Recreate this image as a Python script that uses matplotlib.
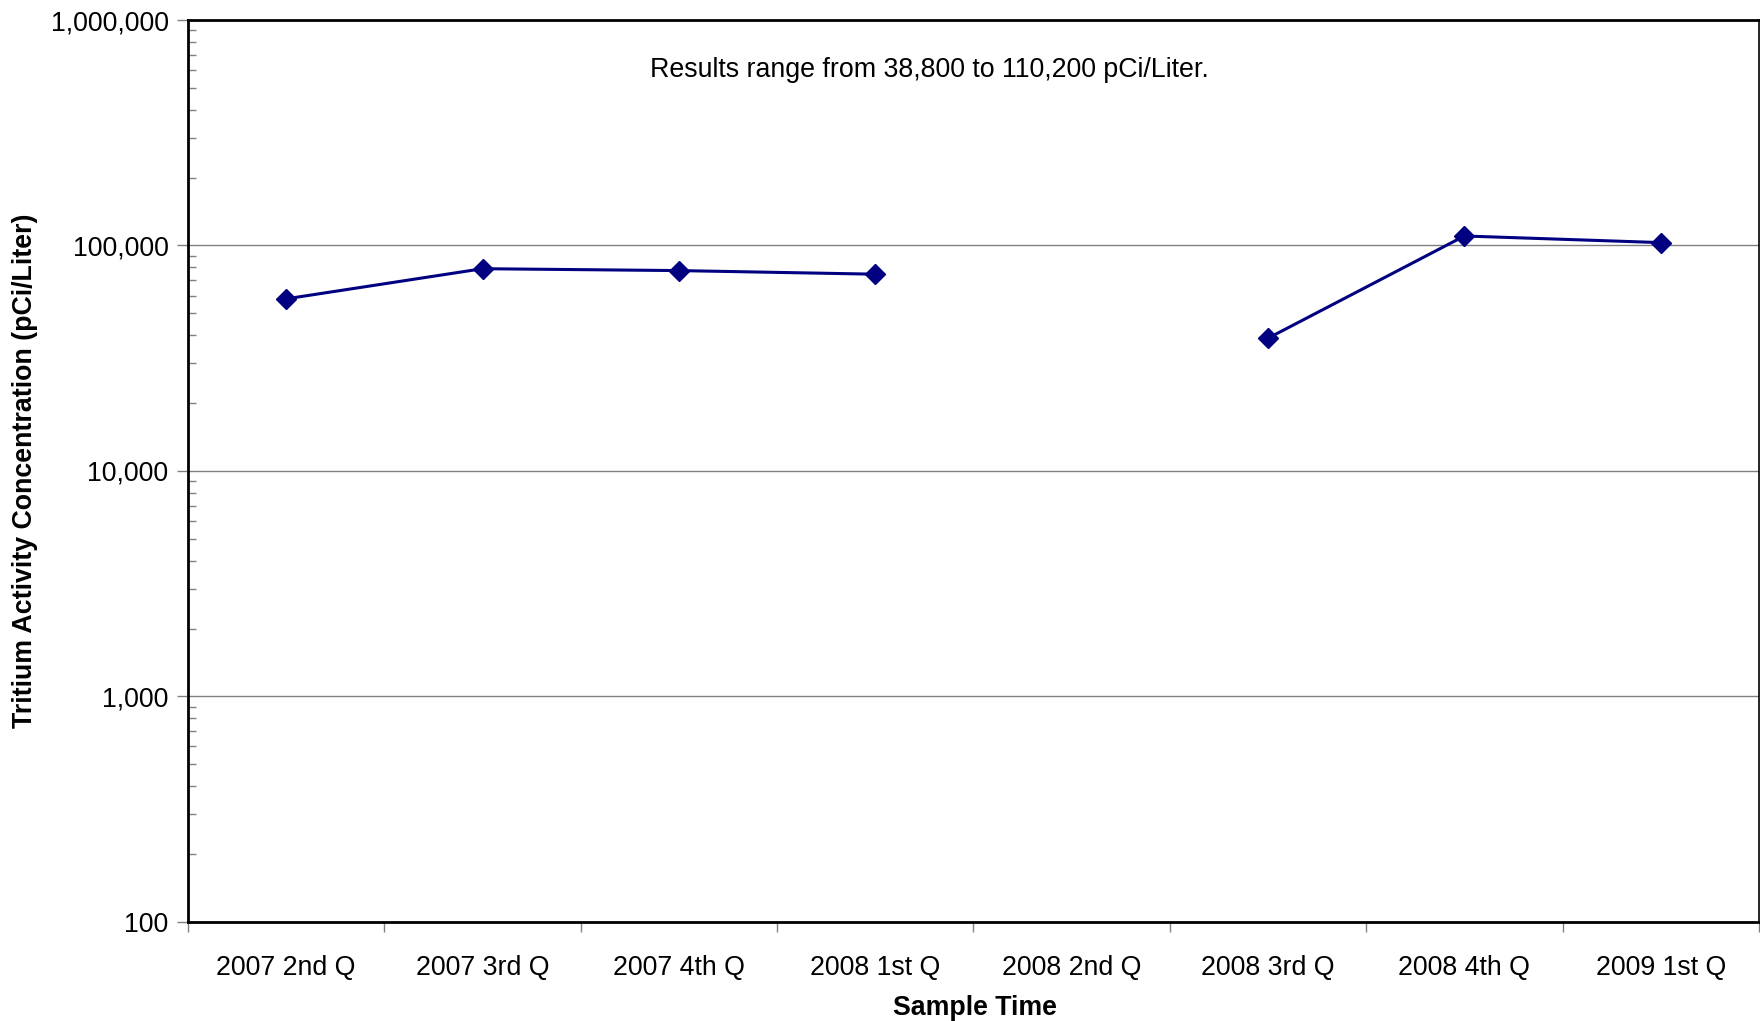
import numpy as np
import matplotlib
matplotlib.use("Agg")
import matplotlib.pyplot as plt
from matplotlib.ticker import FuncFormatter, LogLocator, FixedLocator, NullFormatter

plt.rcParams['font.family'] = ['Liberation Sans', 'DejaVu Sans']

# data
quarters = ["2007 2nd Q", "2007 3rd Q", "2007 4th Q", "2008 1st Q",
            "2008 2nd Q", "2008 3rd Q", "2008 4th Q", "2009 1st Q"]
tritium = [58000, 78900, 77400, 74600, np.nan, 38800, 110200, 103000]
y_ticks = [100, 1000, 10000, 100000, 1000000]
note = "Results range from 38,800 to 110,200 pCi/Liter."

FS = 19.3

fig = plt.figure(figsize=(17.6, 10.21), dpi=100)
ax = fig.add_axes([0.1068, 0.0970, 0.8926, 0.8834])

x = np.arange(len(quarters))
ax.plot(x, tritium, color="#000080", linewidth=2.2, marker="D",
        markersize=10, markerfacecolor="#000080", markeredgecolor="#000080", zorder=3)

ax.set_yscale("log")
ax.set_ylim(y_ticks[0], y_ticks[-1])
ax.set_xlim(-0.5, len(quarters) - 0.5)

ax.yaxis.set_major_locator(FixedLocator(y_ticks))
ax.yaxis.set_major_formatter(FuncFormatter(lambda v, p: f"{int(round(v)):,}"))
ax.yaxis.set_minor_locator(LogLocator(base=10, subs=np.arange(2, 10)))
ax.yaxis.set_minor_formatter(NullFormatter())
ax.tick_params(axis="y", which="major", direction="out", length=8, width=1,
               labelsize=FS, pad=6, color="#808080")
ax.tick_params(axis="y", which="minor", direction="in", length=6, width=1,
               color="#808080")

# category ticks between labels, labels in the middle
ax.set_xticks(np.arange(-0.5, len(quarters), 1.0))
ax.set_xticklabels([])
ax.set_xticks(x, minor=True)
ax.set_xticklabels(quarters, minor=True)
ax.tick_params(axis="x", which="major", direction="out", length=7, width=1,
               color="#808080")
ax.tick_params(axis="x", which="minor", length=0, labelsize=FS, pad=24)

ax.grid(axis="y", which="major", color="#808080", linewidth=1)
ax.set_axisbelow(True)
for s in ax.spines.values():
    s.set_color("black")
    s.set_linewidth(2)
ax.spines["right"].set_linewidth(1.2)

ax.set_ylabel("Tritium Activity Concentration (pCi/Liter)", fontsize=FS,
              fontweight="bold", va="center")
ax.yaxis.set_label_coords(-0.1038, 0.5)
ax.set_xlabel("Sample Time", fontsize=FS, fontweight="bold", va="center")
ax.xaxis.set_label_coords(0.501, -0.095)

ax.text(0.472, 0.945, note, transform=ax.transAxes, ha="center", va="center",
        fontsize=FS)

fig.savefig("out.png", dpi=100, facecolor="white")
